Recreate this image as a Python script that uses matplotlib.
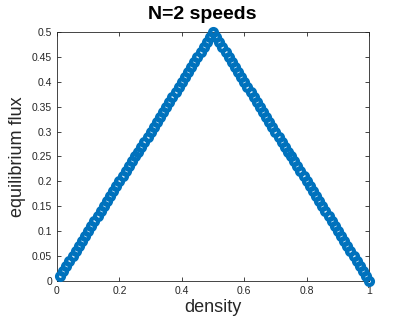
import matplotlib
matplotlib.use("Agg")
import matplotlib.pyplot as plt

plt.rcParams['font.family'] = ['Liberation Sans', 'DejaVu Sans']

density = [0.01, 0.02, 0.03, 0.04, 0.05, 0.06, 0.07, 0.08, 0.09, 0.10,
           0.11, 0.12, 0.13, 0.14, 0.15, 0.16, 0.17, 0.18, 0.19, 0.20,
           0.21, 0.22, 0.23, 0.24, 0.25, 0.26, 0.27, 0.28, 0.29, 0.30,
           0.31, 0.32, 0.33, 0.34, 0.35, 0.36, 0.37, 0.38, 0.39, 0.40,
           0.41, 0.42, 0.43, 0.44, 0.45, 0.46, 0.47, 0.48, 0.49, 0.50,
           0.51, 0.52, 0.53, 0.54, 0.55, 0.56, 0.57, 0.58, 0.59, 0.60,
           0.61, 0.62, 0.63, 0.64, 0.65, 0.66, 0.67, 0.68, 0.69, 0.70,
           0.71, 0.72, 0.73, 0.74, 0.75, 0.76, 0.77, 0.78, 0.79, 0.80,
           0.81, 0.82, 0.83, 0.84, 0.85, 0.86, 0.87, 0.88, 0.89, 0.90,
           0.91, 0.92, 0.93, 0.94, 0.95, 0.96, 0.97, 0.98, 0.99, 1.00]
flux = [0.01, 0.02, 0.03, 0.04, 0.05, 0.06, 0.07, 0.08, 0.09, 0.10,
        0.11, 0.12, 0.13, 0.14, 0.15, 0.16, 0.17, 0.18, 0.19, 0.20,
        0.21, 0.22, 0.23, 0.24, 0.25, 0.26, 0.27, 0.28, 0.29, 0.30,
        0.31, 0.32, 0.33, 0.34, 0.35, 0.36, 0.37, 0.38, 0.39, 0.40,
        0.41, 0.42, 0.43, 0.44, 0.45, 0.46, 0.47, 0.48, 0.49, 0.50,
        0.49, 0.48, 0.47, 0.46, 0.45, 0.44, 0.43, 0.42, 0.41, 0.40,
        0.39, 0.38, 0.37, 0.36, 0.35, 0.34, 0.33, 0.32, 0.31, 0.30,
        0.29, 0.28, 0.27, 0.26, 0.25, 0.24, 0.23, 0.22, 0.21, 0.20,
        0.19, 0.18, 0.17, 0.16, 0.15, 0.14, 0.13, 0.12, 0.11, 0.10,
        0.09, 0.08, 0.07, 0.06, 0.05, 0.04, 0.03, 0.02, 0.01, 0.00]

xticks = [0, 0.2, 0.4, 0.6, 0.8, 1]
xticklabels = ['0', '0.2', '0.4', '0.6', '0.8', '1']
yticks = [0, 0.05, 0.1, 0.15, 0.2, 0.25, 0.3, 0.35, 0.4, 0.45, 0.5]
yticklabels = ['0', '0.05', '0.1', '0.15', '0.2', '0.25', '0.3', '0.35', '0.4', '0.45', '0.5']

fig = plt.figure(figsize=(4.07, 3.25), dpi=100)
ax = fig.add_axes([0.140, 0.135, 0.767, 0.767])

ax.plot(density, flux, 'o', color='#0072BD', markerfacecolor='none',
        markersize=5.0, markeredgewidth=3.0, clip_on=False, zorder=3)

ax.set_xlim(0, 1)
ax.set_ylim(0, 0.5)
ax.set_xticks(xticks)
ax.set_xticklabels(xticklabels)
ax.set_yticks(yticks)
ax.set_yticklabels(yticklabels)
ax.tick_params(direction='in', length=3, width=0.6, colors='#262626',
               labelsize=7.5, top=True, right=True, labeltop=False, labelright=False)
for sp in ax.spines.values():
    sp.set_linewidth(0.6)
    sp.set_color('#262626')

ax.set_xlabel('density', fontsize=13, color='#262626', labelpad=2)
ax.set_ylabel('equilibrium flux', fontsize=13, color='#262626', labelpad=4)
ax.set_title('N=2 speeds', fontsize=14, fontweight='bold', pad=9, x=0.465)

fig.savefig('out.png', dpi=100)
